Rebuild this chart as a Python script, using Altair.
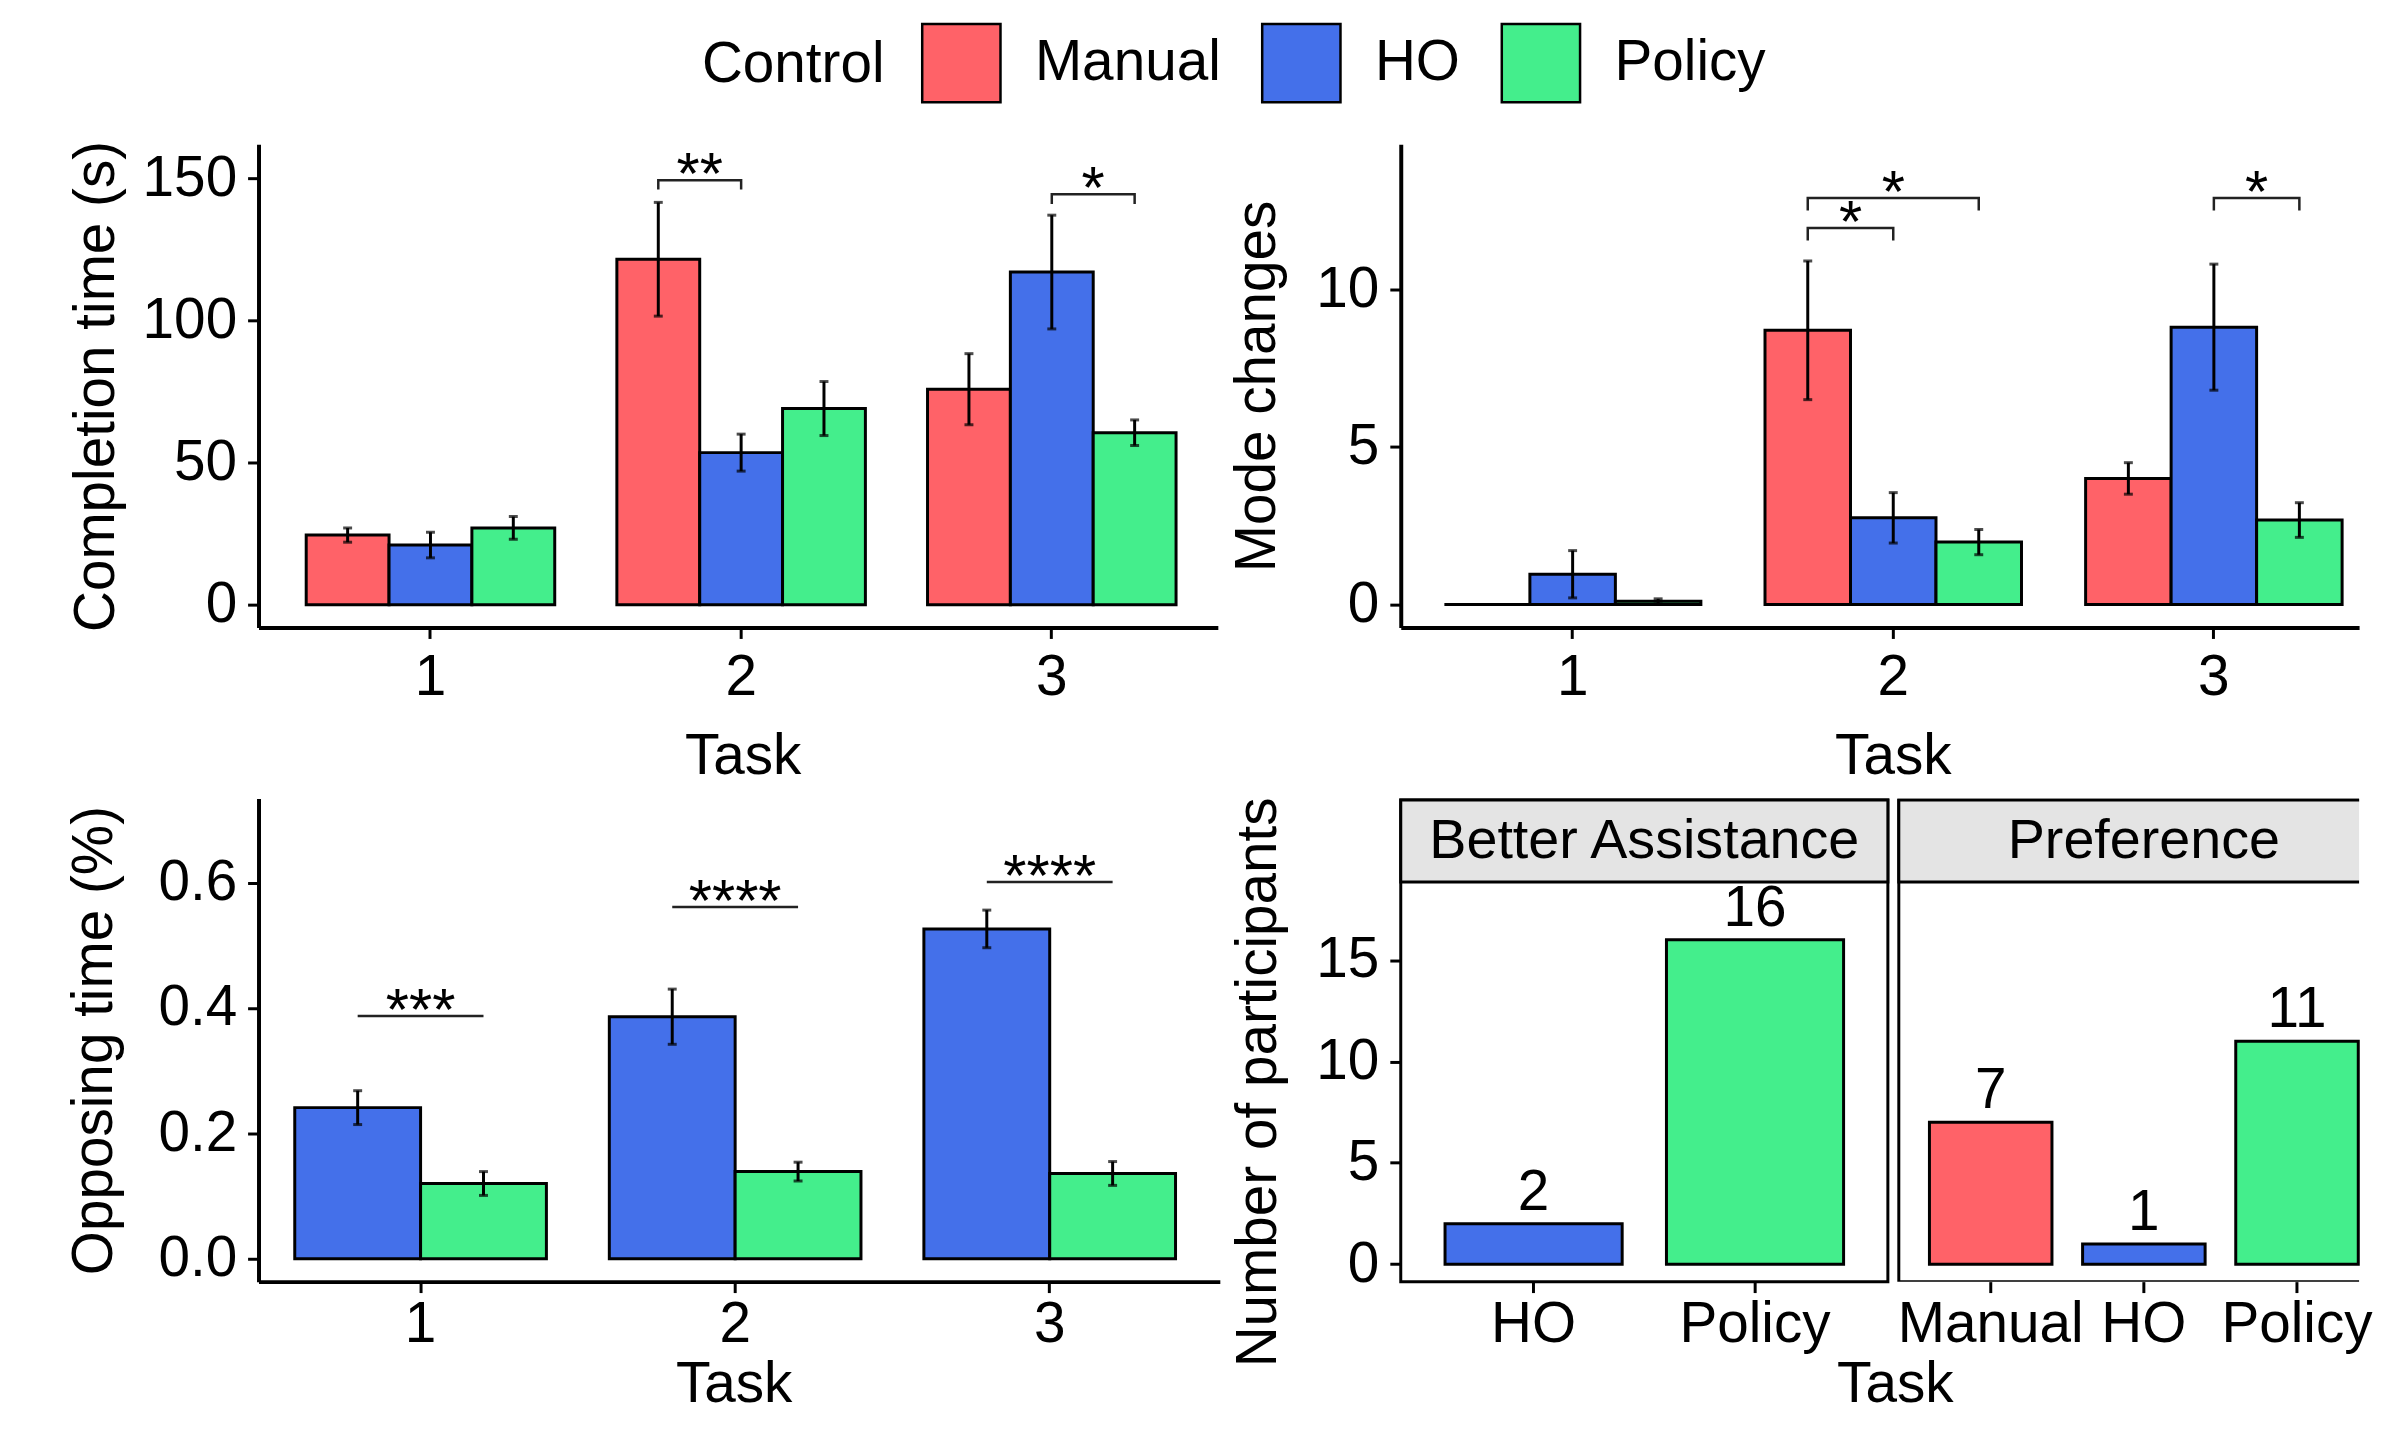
import altair as alt
import pandas as pd

FONT = "Liberation Sans"
FS = 57

tasks = ["1", "2", "3"]
controls = ["Manual", "HO", "Policy"]
control_colors = ["#FF6268", "#4470EA", "#44EE8C"]

# Completion time (s): mean and error bar half-width per task
completion_manual = [24.5, 121.5, 75.8]
completion_ho = [21.0, 53.5, 117.0]
completion_policy = [27.0, 69.0, 60.5]
completion_manual_err = [2.5, 20.0, 12.5]
completion_ho_err = [4.5, 6.5, 20.0]
completion_policy_err = [4.0, 9.5, 4.5]

# Mode changes
mode_manual = [0.0, 8.7, 4.0]
mode_ho = [0.96, 2.75, 8.8]
mode_policy = [0.1, 1.98, 2.68]
mode_manual_err = [0.0, 2.2, 0.5]
mode_ho_err = [0.75, 0.8, 2.0]
mode_policy_err = [0.08, 0.4, 0.55]

# Opposing time (%)
opposing_ho = [0.241, 0.386, 0.526]
opposing_policy = [0.12, 0.139, 0.136]
opposing_ho_err = [0.027, 0.044, 0.03]
opposing_policy_err = [0.019, 0.015, 0.019]

# Significance brackets
completion_sig_task = ["2", "3"]
completion_sig_from = ["Manual", "HO"]
completion_sig_to = ["HO", "Policy"]
completion_sig_y = [149.3, 144.4]
completion_sig_tip = [146.0, 140.9]
completion_sig_label = ["**", "*"]

mode_sig_task = ["2", "2", "3"]
mode_sig_from = ["Manual", "Manual", "HO"]
mode_sig_to = ["HO", "Policy", "Policy"]
mode_sig_y = [11.95, 12.9, 12.9]
mode_sig_tip = [11.55, 12.5, 12.5]
mode_sig_label = ["*", "*", "*"]

opposing_sig_task = ["1", "2", "3"]
opposing_sig_from = ["HO", "HO", "HO"]
opposing_sig_to = ["Policy", "Policy", "Policy"]
opposing_sig_y = [0.387, 0.561, 0.601]
opposing_sig_tip = [0.387, 0.561, 0.601]
opposing_sig_label = ["***", "****", "****"]

# Number of participants
facet_titles = ["Better Assistance", "Preference"]
assist_choices = ["HO", "Policy"]
assist_counts = [2, 16]
pref_choices = ["Manual", "HO", "Policy"]
pref_counts = [7, 1, 11]

# tick values
completion_ticks = [0, 50, 100, 150]
mode_ticks = [0, 5, 10]
opposing_ticks = [0.0, 0.2, 0.4, 0.6]
count_ticks = [0, 5, 10, 15]

H = 486

LEGEND = alt.Legend(
    orient="none", legendX=446, legendY=-123, direction="horizontal",
    title="Control", titleOrient="left", titleAnchor="middle", titleBaseline="middle",
    titlePadding=36, symbolType="square", symbolSize=6200, symbolStrokeColor="black",
    symbolStrokeWidth=2.5, symbolOpacity=1, labelOffset=33, columnPadding=36,
)
COLOR = alt.Color("Control:N", scale=alt.Scale(domain=controls, range=control_colors),
                  legend=LEGEND, title="Control")


def summary(ctrls, means, errs):
    rows = []
    for c, m, e in zip(ctrls, means, errs):
        for t, mv, ev in zip(tasks, m, e):
            rows.append({"Task": t, "Control": c, "pos": c, "mean": mv,
                         "lo": mv - ev, "hi": mv + ev})
    return pd.DataFrame(rows)


def positions(ctrls):
    out = []
    for i, c in enumerate(ctrls):
        out.append(c)
        if i < len(ctrls) - 1:
            out.append(c + "|" + ctrls[i + 1])
    return out


def brackets(ctrls, task, frm, to, y, tip, label):
    lines, labels = [], []
    for k, (t, a, b, yy, tp, lb) in enumerate(zip(task, frm, to, y, tip, label)):
        for j, (p, v) in enumerate([(a, tp), (a, yy), (b, yy), (b, tp)]):
            lines.append({"id": k, "k": j, "Task": t, "pos": p, "y": v})
        ia, ib = ctrls.index(a), ctrls.index(b)
        mid = ctrls[ia + 1] if ib - ia == 2 else a + "|" + b
        labels.append({"Task": t, "pos": mid, "y": yy, "label": lb})
    return pd.DataFrame(lines), pd.DataFrame(labels)


def panel(ctrls, means, errs, sig, ydomain, yticks, yfmt, ytitle, width,
          pad_outer, align, ytitle_x, xtitle_x, xtitle_y, xlabel_pad):
    df = summary(ctrls, means, errs)
    errdf = df[df["hi"] > df["lo"]]
    lines, labels = brackets(ctrls, *sig)
    x = alt.X("Task:N", sort=tasks,
              scale=alt.Scale(domain=tasks, paddingInner=0.2, paddingOuter=pad_outer, align=align),
              axis=alt.Axis(title="Task", labelAngle=0, titleX=xtitle_x, titleY=xtitle_y,
                            titleBaseline="alphabetic", labelPadding=xlabel_pad))
    yaxis = alt.Axis(values=yticks, format=yfmt, title=ytitle, titleX=ytitle_x, titleY=H / 2,
                     titleBaseline="middle", titleAngle=270)
    yscale = alt.Scale(domain=ydomain, nice=False, zero=False)
    off_bar = alt.XOffset("Control:N", sort=ctrls,
                          scale=alt.Scale(domain=ctrls, paddingInner=0, paddingOuter=0))
    off_pt = alt.XOffset("pos:N", sort=positions(ctrls),
                         scale=alt.Scale(domain=positions(ctrls), paddingInner=0, paddingOuter=0.5))

    bars = alt.Chart(df).mark_bar(stroke="black", strokeWidth=3).encode(
        x=x, xOffset=off_bar,
        y=alt.Y("mean:Q", scale=yscale, axis=yaxis), y2=alt.datum(0),
        color=COLOR,
    )
    err = alt.Chart(errdf).mark_rule(color="black", strokeWidth=3).encode(
        x=x, xOffset=off_pt, y=alt.Y("lo:Q", scale=yscale, axis=yaxis), y2="hi:Q")
    cap_lo = alt.Chart(errdf).mark_tick(color="black", thickness=3, size=9, orient="horizontal").encode(
        x=x, xOffset=off_pt, y=alt.Y("lo:Q", scale=yscale, axis=yaxis))
    cap_hi = alt.Chart(errdf).mark_tick(color="black", thickness=3, size=9, orient="horizontal").encode(
        x=x, xOffset=off_pt, y=alt.Y("hi:Q", scale=yscale, axis=yaxis))
    br = alt.Chart(lines).mark_line(color="#222222", strokeWidth=2.5).encode(
        x=x, xOffset=off_pt, y=alt.Y("y:Q", scale=yscale, axis=yaxis),
        detail="id:N", order="k:Q")
    lab = alt.Chart(labels).mark_text(font=FONT, fontSize=60, baseline="alphabetic", dy=14,
                                      color="black").encode(
        x=x, xOffset=off_pt, y=alt.Y("y:Q", scale=yscale, axis=yaxis), text="label:N")

    return alt.layer(bars, alt.layer(err, cap_lo, cap_hi, br, lab)).resolve_scale(
        xOffset="independent").properties(width=width, height=H)


tl = panel(controls,
           [completion_manual, completion_ho, completion_policy],
           [completion_manual_err, completion_ho_err, completion_policy_err],
           (completion_sig_task, completion_sig_from, completion_sig_to, completion_sig_y,
            completion_sig_tip, completion_sig_label),
           [-8.0, 161.9], completion_ticks, "d", "Completion time (s)", 965,
           0.144, 0.533, -163, 487, 147, 11)

tr = panel(controls,
           [mode_manual, mode_ho, mode_policy],
           [mode_manual_err, mode_ho_err, mode_policy_err],
           (mode_sig_task, mode_sig_from, mode_sig_to, mode_sig_y, mode_sig_tip, mode_sig_label),
           [-0.73, 14.6], mode_ticks, "d", "Mode changes", 964,
           0.0945, 0.72, -144, 495, 147, 11)

bl = panel(["HO", "Policy"],
           [opposing_ho, opposing_policy],
           [opposing_ho_err, opposing_policy_err],
           (opposing_sig_task, opposing_sig_from, opposing_sig_to, opposing_sig_y,
            opposing_sig_tip, opposing_sig_label),
           [-0.0365, 0.734], opposing_ticks, ".1f", "Opposing time (%)", 967,
           0.128, 0.45, -165, 478, 121, 4)

STRIP_H = 84
BR_W = 964
BR_YAXIS = alt.Axis(values=count_ticks, domain=False, title="Number of participants",
                    titleX=-143, titleY=(H + STRIP_H) / 2, titleBaseline="middle", titleAngle=270)
BR_YSCALE = alt.Scale(domain=[-0.86, 18.85], range=[H, STRIP_H], nice=False, zero=False)


def participants(title, choices, counts, rng, xaxis, clip, x0, x1):
    d = pd.DataFrame({"Control": choices, "count": counts})
    t = pd.DataFrame({"q": [title]})
    x = alt.X("Control:N", sort=choices,
              scale=alt.Scale(domain=choices, range=rng, paddingInner=0.2, paddingOuter=0.2),
              axis=xaxis)
    y = alt.Y("count:Q", scale=BR_YSCALE, axis=BR_YAXIS)
    border = alt.Chart(t).mark_rect(fillOpacity=0, stroke="black", strokeWidth=3, clip=clip).encode(
        x=alt.value(x0), x2=alt.value(x1), y=alt.value(1.5), y2=alt.value(H))
    bars = alt.Chart(d).mark_bar(stroke="black", strokeWidth=3).encode(
        x=x, y=y, y2=alt.datum(0), color=COLOR)
    nums = alt.Chart(d).mark_text(font=FONT, fontSize=FS, baseline="alphabetic", dy=-14,
                                  color="black").encode(x=x, y=y, text="count:Q")
    strip = alt.Chart(t).mark_rect(fill="#E4E4E4", stroke="black", strokeWidth=3, clip=clip).encode(
        x=alt.value(x0), x2=alt.value(x1), y=alt.value(1.5), y2=alt.value(STRIP_H))
    label = alt.Chart(t).mark_text(font=FONT, fontSize=56, baseline="middle", color="black").encode(
        x=alt.value((rng[0] + rng[1]) / 2), y=alt.value(STRIP_H / 2 + 1), text="q:N")
    return alt.layer(border, bars, nums, strip, label)


p1 = participants(facet_titles[0], assist_choices, assist_counts, [0, 490],
                  alt.Axis(title="Task", titleX=497, titleY=121, titleBaseline="alphabetic",
                           domain=False, orient="bottom", labelAngle=0, labelPadding=4),
                  False, 0, 490)
p2 = participants(facet_titles[1], pref_choices, pref_counts, [501, 994],
                  alt.Axis(title=None, domain=False, orient="bottom", labelAngle=0, labelPadding=4),
                  True, 501, 1010)
br = alt.layer(p1, p2).resolve_scale(x="independent").properties(width=BR_W, height=H)

chart = alt.concat(
    tl, tr, bl, br, columns=2,
    spacing=alt.RowColnumber(row=172, column=182), bounds="flush",
).properties(
    padding={"left": 58, "top": 10, "right": 0, "bottom": 2},
    background="white",
).configure_axis(
    domainColor="black", domainWidth=4, tickColor="black", tickWidth=3, tickSize=11,
    labelFont=FONT, labelFontSize=FS, labelColor="black", labelPadding=11, labelLimit=400,
    labelOverlap=False, labelFlush=False,
    titleFont=FONT, titleFontSize=FS, titleFontWeight="normal", titleColor="black", grid=False,
).configure_legend(
    labelFont=FONT, labelFontSize=FS, labelColor="black", labelLimit=400,
    titleFont=FONT, titleFontSize=FS, titleFontWeight="normal", titleColor="black", titleLimit=400,
).configure_view(stroke=None)

chart.save("out.html", embed_options={"renderer": "svg", "actions": False})
